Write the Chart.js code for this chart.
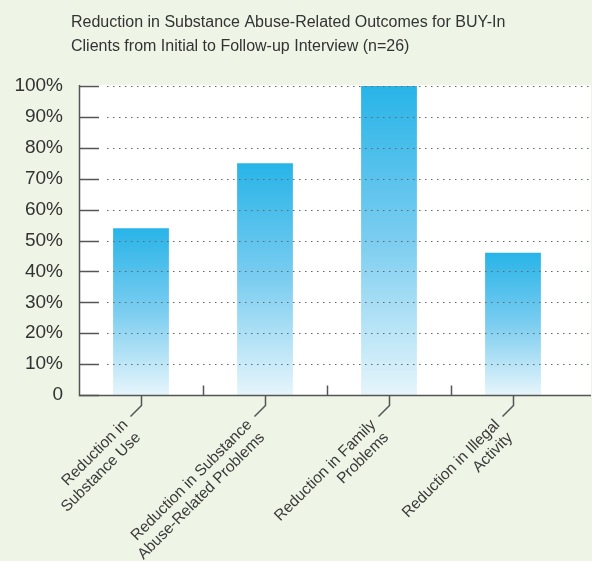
<!DOCTYPE html>
<html>
<head>
<meta charset="utf-8">
<script src="https://cdn.jsdelivr.net/npm/chart.js@4/dist/chart.umd.min.js"></script>
<style>
  html, body { margin: 0; padding: 0; background: #eef4e6; }
  #c { display: block; }
</style>
</head>
<body>
<canvas id="c" width="592" height="561"></canvas>
<script>
const titleLines = [
  "Reduction in Substance Abuse-Related Outcomes for BUY-In",
  "Clients from Initial to Follow-up Interview (n=26)"
];
const categories = [
  ["Reduction in", "Substance Use"],
  ["Reduction in Substance", "Abuse-Related Problems"],
  ["Reduction in Family", "Problems"],
  ["Reduction in Illegal", "Activity"]
];
const reductionPct = [54, 75, 100, 46];
const yTickValues = [0, 10, 20, 30, 40, 50, 60, 70, 80, 90, 100];

const FONT = "'Liberation Sans', Arial, sans-serif";
const INK = "#333333";
const AXIS = "#555555";

function barGradient(ctx) {
  const chart = ctx.chart;
  const y = chart.scales.y;
  if (!y || !ctx.parsed) return "#2bb5e8";
  const top = y.getPixelForValue(ctx.parsed.y);
  const bottom = y.getPixelForValue(0);
  if (!isFinite(top) || !isFinite(bottom) || top === bottom) return "#2bb5e8";
  const g = chart.ctx.createLinearGradient(0, top, 0, bottom);
  g.addColorStop(0, "#28b4e8");
  g.addColorStop(0.5, "#7bcdf0");
  g.addColorStop(1, "#e6f5fb");
  return g;
}

const decor = {
  id: "decor",
  beforeDraw(chart) {
    const { ctx, chartArea: a, width } = chart;
    ctx.save();
    ctx.fillStyle = "#eef4e6";
    ctx.fillRect(0, 0, width, chart.height);
    ctx.fillStyle = "#ffffff";
    ctx.fillRect(a.left, a.top - 1, width - 1 - a.left, a.bottom - a.top + 1);
    ctx.fillStyle = INK;
    ctx.font = "16px " + FONT;
    ctx.textAlign = "left";
    ctx.textBaseline = "alphabetic";
    titleLines.forEach((t, i) => ctx.fillText(t, 71, 27 + i * 24));
    ctx.restore();
  },
  afterDatasetsDraw(chart) {
    const { ctx, chartArea: a, width, scales: { x, y } } = chart;
    const right = width - 1;
    ctx.save();
    // dotted grid
    ctx.strokeStyle = "#666666";
    ctx.lineWidth = 1.2;
    ctx.setLineDash([1.5, 4.5]);
    yTickValues.forEach(v => {
      if (v === 0) return;
      const py = Math.round(y.getPixelForValue(v)) + 0.5;
      ctx.beginPath();
      ctx.moveTo(a.left + 28, py);
      ctx.lineTo(right, py);
      ctx.stroke();
    });
    ctx.setLineDash([]);
    // inward y ticks
    ctx.strokeStyle = AXIS;
    ctx.lineWidth = 1.5;
    yTickValues.forEach(v => {
      const py = Math.round(y.getPixelForValue(v)) + 0.5;
      ctx.beginPath();
      ctx.moveTo(a.left, py);
      ctx.lineTo(a.left + 20, py);
      ctx.stroke();
    });
    // axes
    const y0 = Math.round(y.getPixelForValue(0)) + 0.5;
    ctx.beginPath();
    ctx.moveTo(a.left + 0.5, a.top - 1);
    ctx.lineTo(a.left + 0.5, y0);
    ctx.lineTo(right, y0);
    ctx.stroke();
    // separator ticks
    for (let i = 0; i < categories.length - 1; i++) {
      const px = Math.round((x.getPixelForValue(i) + x.getPixelForValue(i + 1)) / 2) + 0.5;
      ctx.beginPath();
      ctx.moveTo(px, y0 - 10);
      ctx.lineTo(px, y0);
      ctx.stroke();
    }
    // leader lines + labels
    ctx.fillStyle = "#3a3a3a";
    ctx.font = "15.5px " + FONT;
    ctx.textAlign = "right";
    ctx.textBaseline = "middle";
    categories.forEach((lines, i) => {
      const xc = Math.round(x.getPixelForValue(i)) + 0.5;
      ctx.beginPath();
      ctx.moveTo(xc, y0);
      ctx.lineTo(xc, y0 + 10);
      ctx.lineTo(xc - 11, y0 + 21);
      ctx.stroke();
      ctx.save();
      ctx.translate(xc - 16, y0 + 27);
      ctx.rotate(-Math.PI / 4);
      lines.forEach((t, j) => ctx.fillText(t, 0, j * 18));
      ctx.restore();
    });
    ctx.restore();
  }
};

new Chart(document.getElementById("c").getContext("2d"), {
  type: "bar",
  data: {
    labels: categories,
    datasets: [{
      data: reductionPct,
      backgroundColor: barGradient,
      borderWidth: 0,
      barPercentage: 0.45,
      categoryPercentage: 1
    }]
  },
  options: {
    responsive: false,
    animation: false,
    devicePixelRatio: 1,
    layout: { padding: { top: 86, right: 17, left: 0, bottom: 0 } },
    plugins: { legend: { display: false }, title: { display: false }, tooltip: { enabled: false } },
    scales: {
      x: {
        grid: { display: false, drawTicks: false },
        border: { display: false },
        ticks: { display: false },
        afterFit(s) { s.height = 166; }
      },
      y: {
        min: 0, max: 100,
        afterBuildTicks(s) { s.ticks = yTickValues.map(v => ({ value: v })); },
        grid: { display: false, drawTicks: false },
        border: { display: false },
        ticks: {
          padding: 16,
          color: INK,
          font: { family: FONT, size: 19 },
          callback: v => v === 0 ? "0" : v + "%"
        },
        afterFit(s) { s.width = 79; }
      }
    }
  },
  plugins: [decor]
});
</script>
</body>
</html>
